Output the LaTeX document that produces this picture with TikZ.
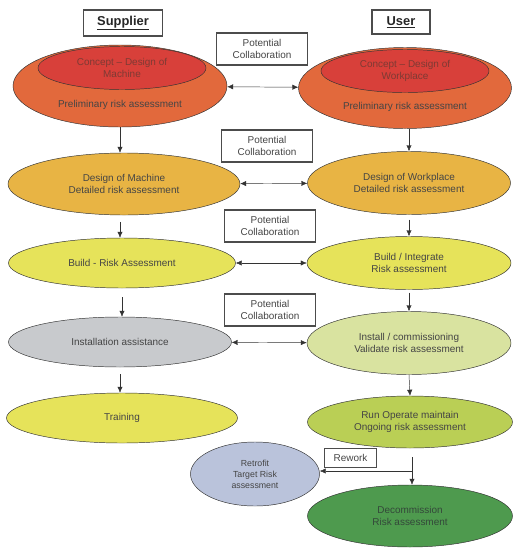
\documentclass[tikz,border=0pt]{standalone}
\usepackage{fontspec}
\setmainfont{Liberation Sans}
\usepackage{xcolor}
\usetikzlibrary{positioning,arrows.meta,shapes.geometric}

\definecolor{conceptout}{HTML}{E2693C}
\definecolor{conceptin}{HTML}{D8403A}
\definecolor{designfill}{HTML}{E8B444}
\definecolor{buildfill}{HTML}{E6E35A}
\definecolor{greyfill}{HTML}{C8CACD}
\definecolor{installfill}{HTML}{D9E3A0}
\definecolor{runfill}{HTML}{BACF55}
\definecolor{retrofill}{HTML}{BAC3DB}
\definecolor{decomfill}{HTML}{4E9A4E}
\definecolor{txt}{HTML}{454545}
\definecolor{concepttxt}{HTML}{7E3A34}
\definecolor{decomtxt}{HTML}{34483A}

\begin{document}
\begin{tikzpicture}[
  x=0.03cm, y=-0.03cm,
  every node/.style={font=\fontsize{8.5}{10.5}\selectfont, text=txt},
  stage/.style={draw=black!80, ellipse, align=center, inner sep=0pt},
  head/.style={draw=black!70, line width=1pt, minimum width=2.37cm, minimum height=0.78cm, font=\fontsize{11}{13}\selectfont\bfseries, text=black!85},
  collab/.style={draw=black!70, line width=0.9pt, align=center, minimum width=2.73cm, minimum height=0.96cm},
  arr/.style={-{Latex[length=1.8mm,width=1.6mm]}, black!80},
  both/.style={{Latex[length=1.8mm,width=1.6mm]}-{Latex[length=1.8mm,width=1.6mm]}, black!80}
]
\useasboundingbox (0,0) rectangle (529,554);

\node[head] (sup) at (123,23) {\underline{Supplier}};
\node[head, minimum width=1.74cm, minimum height=0.72cm] (usr) at (401,22) {\underline{User}};

% concept
\node[stage, fill=conceptout, minimum width=6.42cm, minimum height=2.46cm] (s1l) at (120,86) {};
\node[stage, fill=conceptin, minimum width=5.04cm, minimum height=1.29cm, text=concepttxt] (c1l) at (122,68) {Concept -- Design of\\Machine};
\node (p1l) at (120,105) {Preliminary risk assessment};
\node[stage, fill=conceptout, minimum width=6.39cm, minimum height=2.43cm] (s1r) at (405,88) {};
\node[stage, fill=conceptin, minimum width=5.04cm, minimum height=1.29cm, text=concepttxt] (c1r) at (405,71) {Concept -- Design of\\Workplace};
\node (p1r) at (405,107) {Preliminary risk assessment};

% design
\node[stage, fill=designfill, minimum width=6.96cm, minimum height=1.86cm] (s2l) at (124,184) {Design of Machine\\Detailed risk assessment};
\node[stage, fill=designfill, minimum width=6.09cm, minimum height=1.89cm] (s2r) at (409,183) {Design of Workplace\\Detailed risk assessment};

% build
\node[stage, fill=buildfill, minimum width=6.81cm, minimum height=1.5cm] (s3l) at (122,263) {Build - Risk Assessment};
\node[stage, fill=buildfill, minimum width=6.12cm, minimum height=1.59cm] (s3r) at (409,263) {Build / Integrate\\Risk assessment};

% install
\node[stage, fill=greyfill, minimum width=6.69cm, minimum height=1.5cm] (s4l) at (120,342) {Installation assistance};
\node[stage, fill=installfill, minimum width=6.12cm, minimum height=1.89cm] (s4r) at (409,343) {Install / commissioning\\Validate risk assessment};

% operate
\node[stage, fill=buildfill, minimum width=6.93cm, minimum height=1.5cm] (s5l) at (122,418) {Training};
\node[stage, fill=runfill, minimum width=6.15cm, minimum height=1.56cm] (s5r) at (410,422) {Run Operate maintain\\Ongoing risk assessment};

\node[stage, fill=retrofill, minimum width=3.87cm, minimum height=1.92cm, font=\fontsize{7.5}{9.5}\selectfont] (retro) at (255,474) {Retrofit\\Target Risk\\assessment};
\node[stage, fill=decomfill, minimum width=6.15cm, minimum height=1.86cm, text=decomtxt] (decom) at (410,516) {Decommission\\Risk assessment};

% collaboration boxes
\node[collab] (pc1) at (262,49) {Potential\\Collaboration};
\node[collab] (pc2) at (267,146) {Potential\\Collaboration};
\node[collab] (pc3) at (270,226) {Potential\\Collaboration};
\node[collab] (pc4) at (270,310) {Potential\\Collaboration};
\node[draw=black!70, line width=0.9pt, minimum width=1.56cm, minimum height=0.57cm, anchor=west] (rw) at (324,458) {Rework};

\draw[both] (s1l) -- (s1r);
\draw[both] (s2l) -- (s2r);
\draw[both] (s3l) -- (s3r);
\draw[both] (s4l) -- (s4r);

\draw[arr] (s1l) -- (s2l.north -| s1l);
\draw[arr] (s1r.south -| s2r) -- (s2r.north);
\draw[arr] ([yshift=-0.2cm]s2l.south -| s1l) -- (s3l.north -| s1l);
\draw[arr] ([yshift=-0.15cm]s2r.south) -- (s3r.north);
\draw[arr] ([yshift=-0.27cm]s3l.south) -- (s4l.north -| s3l);
\draw[arr] ([yshift=-0.09cm]s3r.south) -- (s4r.north);
\draw[arr] ([yshift=-0.21cm]s4l.south) -- (s5l.north -| s4l);
\draw[arr] (s4r.south) -- (s5r.north);

\coordinate (split) at (412,471);
\draw[arr] ([yshift=-0.27cm]s5r.south -| split) -- (decom.north -| split);
\draw[arr] (split) -- (retro.east |- split);
\end{tikzpicture}
\end{document}
